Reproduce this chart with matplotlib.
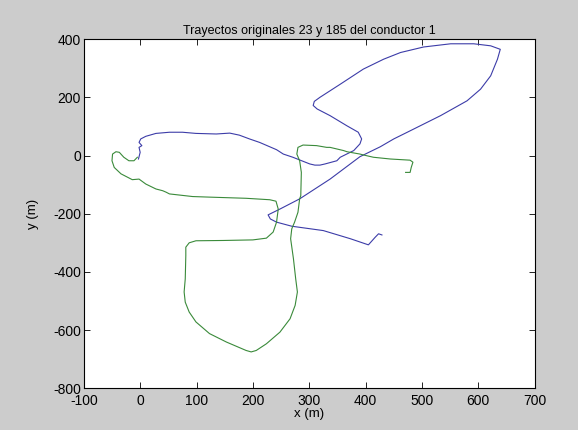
import matplotlib
matplotlib.use("Agg")
import matplotlib.pyplot as plt

plt.rcParams['font.family'] = ['Liberation Sans', 'DejaVu Sans']
plt.rcParams['axes.unicode_minus'] = False

# trayecto 23 (blue)
x23 = [-3, 0, -2, 3, -2, 1, 10, 28, 52, 75, 99, 135, 159, 176, 194, 212, 242, 254, 271,
       301, 310, 319, 328, 349, 355, 379, 390, 393, 387, 367, 337, 314, 307, 309, 319, 355,
       396, 432, 462, 503, 551, 592, 622, 639, 634, 622, 604, 580, 533, 474, 450, 426,
       390, 337, 283, 248, 227, 231, 242, 269, 325, 373, 405, 417, 423, 429]
y23 = [-12, 11, 28, 34, 45, 57, 66, 76, 80, 80, 76, 74, 77, 70, 57, 45, 20, 5, -6,
       -29, -33, -33, -29, -18, -6, 17, 40, 57, 80, 102, 137, 160, 172, 186, 200, 245,
       297, 331, 354, 373, 384, 384, 377, 365, 331, 274, 228, 188, 137, 80, 57, 30,
       -4, -81, -149, -184, -204, -218, -229, -243, -258, -286, -307, -281, -269, -273]

# trayecto 185 (green)
x185 = [-5, -11, -20, -29, -37, -43, -49, -50, -46, -34, -14, -2, 10, 28, 40, 46, 52, 93,
        123, 188, 230, 241, 245, 242, 236, 224, 200, 147, 99, 87, 81, 81, 80, 78, 80,
        87, 99, 123, 153, 188, 197, 206, 224, 248, 266, 275, 279, 276, 272, 267, 269,
        274, 280, 283, 285, 286, 283, 278, 280, 289, 313, 331, 337, 361, 367, 390, 396,
        414, 444, 479, 484, 481, 479, 471]
y185 = [-6, -18, -18, -6, 11, 13, 5, -18, -41, -63, -83, -81, -98, -115, -121, -126, -132, -141,
        -143, -147, -152, -157, -184, -229, -263, -284, -290, -292, -293, -300, -315, -344, -424, -469, -504,
        -538, -572, -612, -641, -670, -675, -670, -647, -607, -561, -515, -469, -424, -355, -286, -252,
        -229, -195, -149, -138, -58, -18, 5, 28, 36, 34, 28, 28, 17, 13, 5, 2,
        -6, -12, -16, -23, -41, -58, -58]

fig = plt.figure(figsize=(5.78, 4.30), dpi=100, facecolor='#cccccc')
ax = fig.add_axes([0.145, 0.097, 0.78, 0.812])
ax.plot(x23, y23, color='#3c3ca8', linewidth=0.8)
ax.plot(x185, y185, color='#3a8a3a', linewidth=0.8)

ax.set_xlim(-100, 700)
ax.set_ylim(-800, 400)
ax.set_xticks(range(-100, 701, 100))
ax.set_yticks(range(-800, 401, 200))
ax.tick_params(direction='in', top=True, right=True, labelsize=10, length=4, width=0.6)
ax.tick_params(axis='x', pad=4)
ax.tick_params(axis='y', pad=2)
for s in ax.spines.values():
    s.set_linewidth(0.8)
ax.set_xlabel('x (m)', fontsize=9.5, labelpad=0)
ax.set_ylabel('y (m)', fontsize=9.5, labelpad=10)
ax.set_title('Trayectos originales 23 y 185 del conductor 1', fontsize=9, pad=4)

fig.savefig('out.png', dpi=100, facecolor=fig.get_facecolor())
